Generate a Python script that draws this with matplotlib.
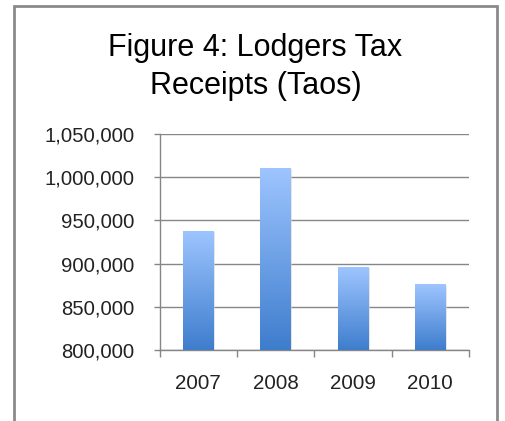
import numpy as np
import matplotlib
matplotlib.use('Agg')
import matplotlib.pyplot as plt
import matplotlib.ticker as tkr
from matplotlib.colors import LinearSegmentedColormap
from matplotlib.patches import Rectangle

#------------------------data------------------------
years = ['2007', '2008', '2009', '2010']
receipts = [938000, 1011000, 896000, 876000]

plt.rcParams['font.family'] = 'Liberation Sans'

W, H = 506, 421
fig = plt.figure(figsize=(W/100, H/100), dpi=100)
ax = fig.add_axes([159.5/W, 1 - 350/H, 309.5/W, 216/H])

# outer frame of the chart (bottom edge runs off the picture)
fig.patches.append(Rectangle((14.5/W, -0.1), 483/W, 1.1 - 6/H, transform=fig.transFigure,
                             fill=False, edgecolor='#8a8a8a', linewidth=2))

x = np.arange(len(years))
ymin, ymax = 800000, 1050000
bars = ax.bar(x, receipts, width=0.39, color='none', edgecolor='none', zorder=3)

# gradient fill for each bar: light on top, darker at bottom
cmap = LinearSegmentedColormap.from_list('blu', ['#3e7dcd', '#9ec5ff'])
grad = np.linspace(0, 1, 256).reshape(-1, 1)
for b in bars:
    x0, w, h = b.get_x(), b.get_width(), b.get_height()
    # soft shadow to the right
    ax.add_patch(Rectangle((x0 + 0.02, ymin), w, h - ymin - 1500, facecolor='#d4d4d4',
                           edgecolor='none', zorder=2, alpha=0.6))
    im = ax.imshow(grad, extent=[x0, x0 + w, ymin, h], origin='lower', cmap=cmap,
                   aspect='auto', zorder=3)
    im.set_clip_path(b)

ax.set_xlim(-0.5, len(years) - 0.5)
ax.set_ylim(ymin, ymax)
ax.set_xticks(x)
ax.set_xticklabels(years)
ax.xaxis.set_minor_locator(tkr.FixedLocator(np.arange(-0.5, len(years), 1)))
ax.yaxis.set_major_locator(tkr.MultipleLocator(50000))
ax.yaxis.set_major_formatter(tkr.FuncFormatter(lambda v, p: '{:,.0f}'.format(v)))
ax.tick_params(axis='x', which='major', length=0, pad=17.5, labelsize=14.8, colors='#222222')
ax.tick_params(axis='x', which='minor', length=5, width=1, color='#868686')
ax.tick_params(axis='y', length=4.5, width=1, color='#868686', pad=13.5, labelsize=14.6,
               labelcolor='#222222')
ax.grid(axis='y', color='#868686', linewidth=1)
ax.set_axisbelow(True)
for s in ['top', 'right']:
    ax.spines[s].set_visible(False)
for s in ['left', 'bottom']:
    ax.spines[s].set_color('#868686')
    ax.spines[s].set_linewidth(1)

fig.text(255.5/W, 1 - 56/H, 'Figure 4: Lodgers Tax', ha='center', va='baseline',
         fontsize=22, color='black')
fig.text(255.5/W, 1 - 94/H, 'Receipts (Taos)', ha='center', va='baseline',
         fontsize=22, color='black')

plt.savefig('out.png', dpi=100)
